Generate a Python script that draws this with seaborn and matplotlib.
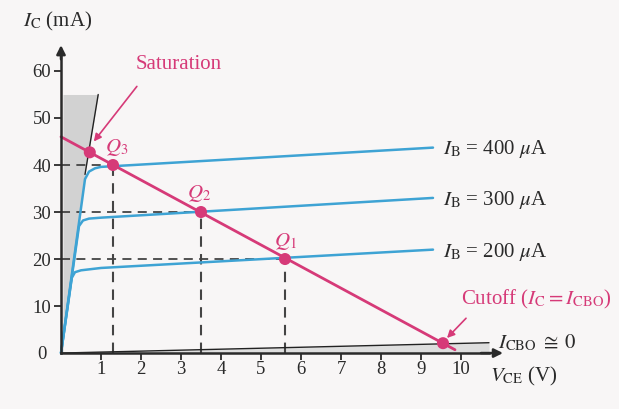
import numpy as np
import pandas as pd
import seaborn as sns
import matplotlib.pyplot as plt

# ---- data -------------------------------------------------------------
# collector characteristics (V_CE in V, I_C in mA) for three base currents
vce_200 = [0.0, 0.27, 0.35, 0.5, 1.0, 9.3]
ic_200 = [0.0, 16.0, 17.2, 17.6, 18.1, 22.0]
vce_300 = [0.0, 0.45, 0.55, 0.7, 1.0, 9.3]
ic_300 = [0.0, 27.0, 28.2, 28.6, 28.8, 33.0]
vce_400 = [0.0, 0.6, 0.7, 0.85, 1.0, 9.3]
ic_400 = [0.0, 37.0, 38.6, 39.3, 39.6, 43.7]
curve_labels = ["200", "300", "400"]

# dc load line
load_vce = [0.0, 9.85]
load_ic = [46.0, 0.7]

# operating points on the load line
q_names = ["Qsat", "Q3", "Q2", "Q1", "Qcut"]
q_vce = [0.72, 1.3, 3.5, 5.6, 9.55]
q_ic = [42.7, 40.0, 30.0, 20.0, 2.1]

# saturation boundary and I_CBO line
sat_vce = [0.0, 0.6, 0.93]
sat_ic = [0.0, 38.0, 55.0]
icbo_vce = [0.0, 10.7]
icbo_ic = [0.0, 2.2]

yticks = [10, 20, 30, 40, 50, 60]
xticks = [1, 2, 3, 4, 5, 6, 7, 8, 9, 10]

# ---- style ------------------------------------------------------------
sns.set_theme(style="white")
plt.rcParams["font.family"] = ["Liberation Serif", "DejaVu Serif"]
plt.rcParams["mathtext.fontset"] = "stix"

BG = "#f8f6f6"
MAG = "#d63a78"
BLUE = "#3ea3d4"
INK = "#2a2a2a"
FS = 15

fig = plt.figure(figsize=(6.19, 4.09), dpi=100, facecolor=BG)
ax = fig.add_axes([0, 0, 1, 1], facecolor=BG)
ax.set_xlim(-1.525, 13.95)
ax.set_ylim(-11.9, 75.1)

# shaded saturation and cutoff regions
ax.fill_betweenx(sat_ic, 0.05, sat_vce, color="#d2d2d2", lw=0, zorder=1)
ax.fill_between(icbo_vce, 0, icbo_ic, color="#dedede", lw=0, zorder=1)

# dashed projections of Q points onto the axes
for v, i in zip(q_vce[1:4], q_ic[1:4]):
    ax.plot([0, v], [i, i], ls=(0, (5, 3.5)), color="#444", lw=1.3, zorder=2)
    ax.plot([v, v], [0, i], ls=(0, (5, 3.5)), color="#444", lw=1.5, zorder=2)

# characteristic curves
curves = pd.concat([
    pd.DataFrame({"VCE": vce_200, "IC": ic_200, "IB": curve_labels[0]}),
    pd.DataFrame({"VCE": vce_300, "IC": ic_300, "IB": curve_labels[1]}),
    pd.DataFrame({"VCE": vce_400, "IC": ic_400, "IB": curve_labels[2]}),
])
sns.lineplot(data=curves, x="VCE", y="IC", units="IB", estimator=None,
             sort=False, color=BLUE, lw=1.8, ax=ax, zorder=3, legend=False)

# saturation boundary and I_CBO line
sns.lineplot(x=sat_vce[1:], y=sat_ic[1:], color="#222", lw=1.0, ax=ax, zorder=3)
sns.lineplot(x=icbo_vce, y=icbo_ic, color="#222", lw=1.0, ax=ax, zorder=3)

# load line and operating points
sns.lineplot(x=load_vce, y=load_ic, color=MAG, lw=2.0, ax=ax, zorder=4)
sns.scatterplot(x=q_vce, y=q_ic, color=MAG, s=75, edgecolor="none",
                ax=ax, zorder=5)

# axes with arrowheads
for side in ["top", "right"]:
    ax.spines[side].set_visible(False)
ax.spines["left"].set_position(("data", 0))
ax.spines["bottom"].set_position(("data", 0))
ax.spines["left"].set_bounds(0, 64)
ax.spines["bottom"].set_bounds(0, 10.7)
for side in ["left", "bottom"]:
    ax.spines[side].set_color(INK)
    ax.spines[side].set_linewidth(1.8)
    ax.spines[side].set_zorder(6)
ax.annotate("", xy=(0, 65.5), xytext=(0, 62.5),
            arrowprops=dict(arrowstyle="-|>", color=INK, lw=1.8,
                            mutation_scale=13, shrinkA=0, shrinkB=0))
ax.annotate("", xy=(11.05, 0), xytext=(10.5, 0),
            arrowprops=dict(arrowstyle="-|>", color=INK, lw=1.8,
                            mutation_scale=13, shrinkA=0, shrinkB=0))

ax.set_xticks(xticks)
ax.set_yticks(yticks)
ax.set_xticklabels([str(t) for t in xticks])
ax.set_yticklabels([str(t) for t in yticks])
ax.tick_params(axis="both", direction="out", length=5, width=1.3,
               color=INK, labelcolor=INK, labelsize=13.5, pad=2)
ax.tick_params(axis="x", bottom=True, pad=1)
ax.tick_params(axis="y", left=True)
ax.set_xlabel("")
ax.set_ylabel("")
ax.grid(False)
ax.text(-0.35, -0.3, "0", ha="right", va="center", fontsize=13.5, color=INK)

# text annotations
ax.text(-0.95, 70.5, r"$I_{\mathrm{C}}$ (mA)", fontsize=FS, color=INK,
        ha="left", va="center")
ax.text(10.72, -5.0, r"$V_{\mathrm{CE}}$ (V)", fontsize=FS, color=INK,
        ha="left", va="center")
ax.text(10.92, 2.2, r"$I_{\mathrm{CBO}}\;\cong\;0$", fontsize=FS, color=INK,
        ha="left", va="center")
for lab, y in zip(curve_labels, [ic_200[-1], ic_300[-1], ic_400[-1]]):
    ax.text(9.55, y - 0.4, r"$I_{\mathrm{B}}$ = " + lab + r" $\mu$A",
            fontsize=FS, color=INK, ha="left", va="center")

ax.text(1.1, 43.8, r"$Q_3$", fontsize=FS, color=MAG, ha="left", va="center")
ax.text(3.45, 34.0, r"$Q_2$", fontsize=FS, color=MAG, ha="center", va="center")
ax.text(5.6, 23.8, r"$Q_1$", fontsize=FS, color=MAG, ha="center", va="center")

ax.annotate("Saturation", xy=(0.82, 45.0), xytext=(2.95, 61.3),
            fontsize=FS, color=MAG, ha="center", va="center",
            arrowprops=dict(arrowstyle="-|>", color=MAG, lw=1.2,
                            mutation_scale=11, shrinkA=8, shrinkB=0,
                            relpos=(0.12, 0.0)))
ax.annotate(r"Cutoff ($I_{\mathrm{C}} = I_{\mathrm{CBO}}$)", xy=(9.65, 3.2),
            xytext=(10.0, 11.4), fontsize=FS, color=MAG, ha="left",
            va="center",
            arrowprops=dict(arrowstyle="-|>", color=MAG, lw=1.2,
                            mutation_scale=11, shrinkA=4, shrinkB=0,
                            relpos=(0.08, 0.0)))

fig.savefig("out.png", dpi=100, facecolor=BG)
